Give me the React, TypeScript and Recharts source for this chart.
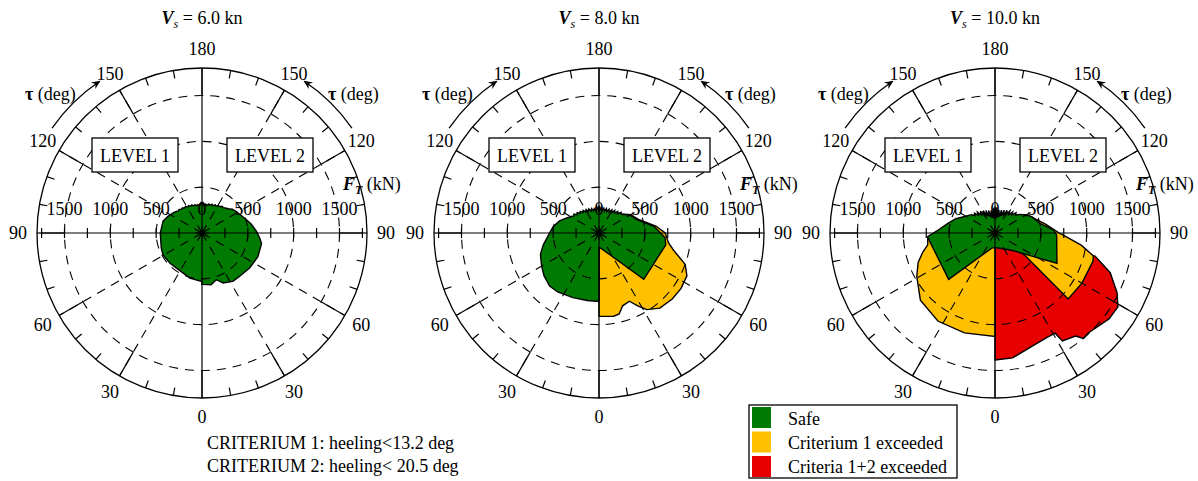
import React from "react";
import {
	RadarChart,
	Radar,
	PolarGrid,
	PolarAngleAxis,
	PolarRadiusAxis,
} from "recharts";

// boundary vertices [tau (deg), F_T (kN)]; L = Level 1 (left half), R = Level 2 (right half)
const p1GreenR = [[0, 560], [10, 573], [17, 533], [23, 592], [33, 626], [41, 626], [54, 645], [67, 662], [80, 660], [85, 632], [92, 593], [100, 547], [109, 494], [116, 460], [122, 443], [125, 430], [128, 420], [131, 398], [134, 385], [137, 372], [140, 360], [143, 364], [146, 345], [149, 350], [152, 332], [155, 340], [158, 322], [161, 332], [164, 314], [167, 325], [170, 305], [173, 318], [176, 300], [178, 330], [180, 315]];
const p1GreenL = [[0, 530], [15, 510], [36, 473], [47, 481], [61, 487], [70, 473], [90, 455], [107, 444], [116, 413], [125, 385], [130, 367], [133, 352], [136, 358], [139, 342], [142, 348], [145, 334], [148, 340], [151, 326], [154, 332], [157, 318], [160, 326], [163, 310], [166, 318], [169, 305], [172, 314], [175, 300], [178, 330], [180, 315]];

const p2YellowR = [[0, 909], [10, 922], [14, 910], [18, 835], [24, 815], [28, 900], [32, 985], [39, 1055], [48, 1075], [56, 1080], [64, 1067], [70, 1000], [77, 835], [82, 765], [90, 722], [97, 625], [109, 455], [120, 398], [130, 322], [180, 250]];
const p2GreenR = [[0, 160], [8, 170], [44, 703], [80, 740], [86, 722], [97, 605], [109, 443], [120, 390], [130, 318], [133, 330], [136, 290], [139, 312], [142, 275], [145, 300], [148, 262], [151, 290], [154, 255], [157, 282], [160, 248], [163, 278], [166, 245], [169, 275], [172, 240], [175, 285], [178, 245], [180, 300]];
const p2GreenL = [[0, 746], [10, 748], [22, 760], [35, 785], [43, 790], [52, 760], [60, 723], [70, 680], [78, 621], [90, 540], [98, 504], [107, 450], [115, 389], [121, 350], [124, 332], [127, 342], [130, 312], [133, 326], [136, 298], [139, 312], [142, 285], [145, 302], [148, 272], [151, 292], [154, 262], [157, 284], [160, 254], [163, 278], [166, 248], [169, 272], [172, 244], [175, 290], [178, 250], [180, 300]];

const p3RedR = [[0, 1385], [8, 1376], [18, 1300], [27, 1272], [31, 1275], [32, 1388], [38, 1426], [40, 1500], [43, 1492], [53, 1557], [59, 1565], [64, 1481], [71, 1329], [77, 1120], [78, 0]];
const p3YellowR = [[0, 0], [53, 420], [48, 1074], [60, 1095], [74, 1113], [77, 1100], [82, 950], [87, 775], [90, 700], [100, 560], [120, 400], [180, 150]];
const p3YellowL = [[0, 1128], [17, 1140], [33, 1145], [48, 1095], [61, 976], [69, 898], [75, 817], [80, 745], [86, 735], [93, 600], [110, 430], [130, 300], [180, 150]];
const p3GreenR = [[0, 160], [12, 168], [44, 262], [58, 475], [64, 752], [88, 673], [93, 640], [102, 502], [114, 440], [122, 375], [128, 330], [131, 295], [134, 318], [137, 270], [140, 300], [143, 250], [146, 290], [149, 230], [152, 280], [155, 210], [158, 270], [161, 195], [164, 260], [167, 180], [170, 255], [173, 170], [176, 280], [178, 160], [180, 290]];
const p3GreenL = [[0, 160], [12, 168], [45, 715], [84, 724], [87, 735], [93, 620], [102, 521], [110, 455], [119, 375], [128, 325], [131, 290], [134, 310], [137, 265], [140, 298], [143, 245], [146, 285], [149, 225], [152, 275], [155, 205], [158, 265], [161, 190], [164, 255], [167, 175], [170, 250], [173, 165], [176, 275], [178, 155], [180, 290]];

const speeds = ["6.0", "8.0", "10.0"];
const radiusTicks = [0, 250, 500, 750, 1000, 1250, 1500, 1750];
const radiusLabels = [500, 1000, 1500];
const gridRadii = [500, 1000, 1500];
const gridTaus = [30, 60, 120, 150];
const angleTicks = Array.from({ length: 36 }, (_, i) => i * 10);
const criteria = ["CRITERIUM 1: heeling<13.2 deg", "CRITERIUM 2: heeling< 20.5 deg"];
const legendItems = ["Safe", "Criterium 1 exceeded", "Criteria 1+2 exceeded"];

const GREEN = "#007a00";
const YELLOW = "#ffc000";
const RED = "#e80000";
const FONT = "'Liberation Serif', 'Times New Roman', serif";

const W = 400;
const H = 481;
const CX = 200;
const CY = 233;
const R = 165;
const FMAX = 1800;
const plotLefts = [2, 399, 795];

const px = (v) => (v / FMAX) * R;

// right half runs 0 -> 180 counter-clockwise from the bottom, left half comes back 180 -> 0
const toRows = (right, left) => [
	...right.map(([t, f]) => ({ theta: t, f })),
	...[...left].reverse().map(([t, f]) => ({ theta: 360 - t, f })),
];

const plots = [
	[{ fill: GREEN, rows: toRows(p1GreenR, p1GreenL) }],
	[
		{ fill: YELLOW, rows: toRows(p2YellowR, []) },
		{ fill: GREEN, rows: toRows(p2GreenR, p2GreenL) },
	],
	[
		{ fill: RED, rows: toRows(p3RedR, []) },
		{ fill: YELLOW, rows: toRows(p3YellowR, p3YellowL) },
		{ fill: GREEN, rows: toRows(p3GreenR, p3GreenL) },
	],
];

const chartProps = {
	width: W,
	height: H,
	cx: CX,
	cy: CY,
	outerRadius: R,
	innerRadius: 0,
	startAngle: -90,
	endAngle: 270,
	margin: { top: 0, right: 0, bottom: 0, left: 0 },
};

const abs = { position: "absolute", left: 0, top: 0 } as const;

function FillLayer({ rows, fill }) {
	return (
		<div style={abs}>
			<RadarChart {...chartProps} data={rows}>
				<PolarAngleAxis dataKey="theta" type="number" domain={[0, 360]} tick={false} axisLine={false} tickLine={false} />
				<PolarRadiusAxis type="number" domain={[0, FMAX]} allowDataOverflow tick={false} axisLine={false} />
				<Radar dataKey="f" fill={fill} fillOpacity={1} stroke="#000" strokeWidth={1.4} isAnimationActive={false} />
			</RadarChart>
		</div>
	);
}

function AngleTick(props) {
	const { payload } = props;
	const theta = payload.value;
	const tau = theta <= 180 ? theta : 360 - theta;
	const a = (payload.coordinate * Math.PI) / 180;
	const major = tau % 30 === 0;
	const at = (r) => ({ x: CX + r * Math.cos(a), y: CY - r * Math.sin(a) });
	const p1 = at(R);
	const p2 = at(major ? px(1500) : R - 8);
	const lab = at(R + 19);
	return (
		<g>
			<line x1={p1.x} y1={p1.y} x2={p2.x} y2={p2.y} stroke="#000" strokeWidth={1.2} />
			{major && (
				<text x={lab.x} y={lab.y} textAnchor="middle" dominantBaseline="central" fontSize={18} fontFamily={FONT} fill="#000">
					{tau}
				</text>
			)}
		</g>
	);
}

const radiusTick = (side) => (props) => {
	const { x, y, payload } = props;
	const v = payload.value;
	const label = radiusLabels.includes(v) || (side === "r" && v === 0);
	return (
		<g>
			{v > 0 && <line x1={x} y1={y - 5} x2={x} y2={y + 5} stroke="#000" strokeWidth={1.2} />}
			{label && (
				<text x={x} y={y - 18} textAnchor="middle" fontSize={18} fontFamily={FONT} fill="#000">
					{v}
				</text>
			)}
		</g>
	);
};

const axisLineStyle = { stroke: "#000", strokeWidth: 1.2 };

function GridLayer({ rows }) {
	const spokes = gridTaus.flatMap((t) => [t - 90, 270 - t]);
	return (
		<div style={abs}>
			<RadarChart {...chartProps} data={rows}>
				<PolarGrid
					gridType="circle"
					polarRadius={gridRadii.map(px)}
					polarAngles={spokes}
					stroke="#000"
					strokeWidth={1.1}
					strokeDasharray="9 7"
				/>
				<PolarAngleAxis
					dataKey="theta"
					type="number"
					domain={[0, 360]}
					ticks={angleTicks}
					tick={AngleTick}
					tickLine={false}
					axisLineType="circle"
					axisLine={{ stroke: "#000", strokeWidth: 1.3 }}
				/>
				<PolarRadiusAxis radiusAxisId="r" type="number" angle={0} domain={[0, FMAX]} allowDataOverflow ticks={radiusTicks} tick={radiusTick("r")} stroke="#000" axisLine={axisLineStyle} />
				<PolarRadiusAxis radiusAxisId="l" type="number" angle={180} domain={[0, FMAX]} allowDataOverflow ticks={radiusTicks} tick={radiusTick("l")} stroke="#000" axisLine={axisLineStyle} />
				<PolarRadiusAxis radiusAxisId="u" type="number" angle={90} domain={[0, FMAX]} allowDataOverflow tick={false} stroke="#000" axisLine={axisLineStyle} />
				<PolarRadiusAxis radiusAxisId="d" type="number" angle={-90} domain={[0, FMAX]} allowDataOverflow tick={false} stroke="#000" axisLine={axisLineStyle} />
			</RadarChart>
		</div>
	);
}

function Annotations({ speed }) {
	const S = { fontFamily: FONT, fontSize: 18, fill: "#000" };
	const pt = (tau, r, side) => ({
		x: CX + side * r * Math.sin((tau * Math.PI) / 180),
		y: CY + r * Math.cos((tau * Math.PI) / 180),
	});
	const arc = (side) => {
		const a = pt(125, 183, side);
		const b = pt(146, 183, side);
		return `M ${a.x} ${a.y} A 183 183 0 0 ${side < 0 ? 1 : 0} ${b.x} ${b.y}`;
	};
	const star = [0, 30, 60, 90, 120, 150];
	return (
		<svg width={W} height={H} style={{ ...abs, overflow: "visible" }}>
			<defs>
				<marker id="arrowHead" markerWidth="10" markerHeight="10" refX="8" refY="5" orient="auto" markerUnits="userSpaceOnUse">
					<path d="M0,1 L9,5 L0,9 L3,5 Z" fill="#000" />
				</marker>
			</defs>
			{star.map((d) => {
				const a = (d * Math.PI) / 180;
				return <line key={d} x1={CX - 7 * Math.cos(a)} y1={CY - 7 * Math.sin(a)} x2={CX + 7 * Math.cos(a)} y2={CY + 7 * Math.sin(a)} stroke="#000" strokeWidth={1} />;
			})}
			<circle cx={CX} cy={CY} r={2.5} fill="#000" />
			<text x={CX} y={24} textAnchor="middle" {...S}>
				<tspan fontWeight="bold" fontStyle="italic">V</tspan>
				<tspan fontSize={12} fontStyle="italic" dy={4}>s</tspan>
				<tspan dy={-4}>{` = ${speed} kn`}</tspan>
			</text>
			<path d={arc(-1)} fill="none" stroke="#000" strokeWidth={1.3} markerEnd="url(#arrowHead)" />
			<path d={arc(1)} fill="none" stroke="#000" strokeWidth={1.3} markerEnd="url(#arrowHead)" />
			<text x={CX - 177} y={100} {...S}>
				<tspan fontWeight="bold">τ</tspan> (deg)
			</text>
			<text x={CX + 126} y={100} {...S}>
				<tspan fontWeight="bold">τ</tspan> (deg)
			</text>
			<rect x={CX - 110} y={138} width={86} height={34} fill="#fff" stroke="#000" strokeWidth={1.3} />
			<text x={CX - 67} y={162} textAnchor="middle" {...S}>LEVEL 1</text>
			<rect x={CX + 25} y={138} width={86} height={34} fill="#fff" stroke="#000" strokeWidth={1.3} />
			<text x={CX + 68} y={162} textAnchor="middle" {...S}>LEVEL 2</text>
			<text x={CX + 141} y={190} {...S}>
				<tspan fontWeight="bold" fontStyle="italic">F</tspan>
				<tspan fontSize={12} fontWeight="bold" fontStyle="italic" dy={4}>T</tspan>
				<tspan dy={-4}> (kN)</tspan>
			</text>
		</svg>
	);
}

export default function App() {
	const legendColors = [GREEN, YELLOW, RED];
	return (
		<div style={{ position: "relative", width: 1198, height: 481, background: "#fff" }}>
			<style>{`body{margin:0}`}</style>
			{plots.map((layers, i) => (
				<div key={i} style={{ position: "absolute", left: plotLefts[i], top: 0, width: W, height: H }}>
					{layers.map((l, j) => (
						<FillLayer key={j} rows={l.rows} fill={l.fill} />
					))}
					<GridLayer rows={layers[layers.length - 1].rows} />
					<Annotations speed={speeds[i]} />
				</div>
			))}
			<svg width={1198} height={481} style={abs}>
				{criteria.map((c, i) => (
					<text key={c} x={207} y={449 + i * 23} fontFamily={FONT} fontSize={18} fill="#000">
						{c}
					</text>
				))}
				<rect x={749} y={405} width={208} height={73} fill="#fff" stroke="#000" strokeWidth={1.3} />
				{legendItems.map((t, i) => (
					<g key={t}>
						<rect x={752} y={407 + i * 24.5} width={19} height={21} fill={legendColors[i]} />
						<text x={788} y={425 + i * 24} fontFamily={FONT} fontSize={18} fill="#000">
							{t}
						</text>
					</g>
				))}
			</svg>
		</div>
	);
}
